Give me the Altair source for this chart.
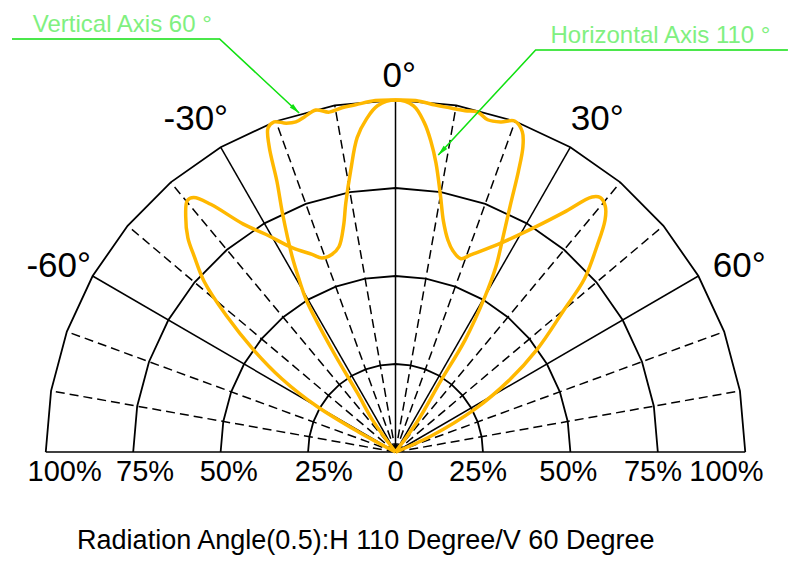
import altair as alt
import pandas as pd

# ---------------- data ----------------
ring_levels = [25, 50, 75, 100]
spoke_angles = list(range(-90, 91, 10))
ring_angles = list(range(-90, 91, 10))

# Vertical axis 60 deg curve (angle deg, relative intensity %)
vert_angle = [-38, -36, -33, -32, -30.6, -29.4, -28, -25.5, -23.8, -22.6, -21.6, -20.3,
              -18.5, -16.9, -15.3, -13.2, -11.1, -8.9, -6.6, -3.3, 0, 3.3, 6.6, 9.2,
              11.6, 13.7, 15.6, 17.8, 19.9, 21.7, 22.8, 23.8, 25.0, 26.8, 28.6, 30.1,
              32, 32.6, 35.7, 37]
vert_r = [0, 11, 20, 34, 50, 56, 63, 75, 84, 94, 99, 100,
          98.5, 98, 98.7, 99.8, 98.4, 99, 99.3, 100, 100, 100, 99.2, 99,
          99, 99.4, 98, 98.5, 100, 98, 94, 87, 78, 68, 60, 51,
          37.5, 24, 11, 0]

# Horizontal axis 110 deg curve
horiz_angle = [-64, -61.6, -60, -57.4, -54.4, -51.3, -48.5, -46, -44.3, -41.8, -39.8, -38.6,
               -36.9, -33.9, -30.9, -26.9, -23, -20.9, -18, -15.5, -13, -11.4, -9.1, -7,
               -5, -3, 0, 3, 5, 6.5, 8, 10, 11.8, 14, 16, 18.8, 21, 26.5, 32.3, 35.3,
               37.8, 39, 40.7, 42.3, 44.6, 47.7, 50, 54.2, 58, 61.7, 66, 68]
horiz_r = [0, 12, 26, 38.5, 50, 62, 73, 80, 85, 90, 93, 92.5,
           88, 78, 72, 65, 61, 59, 59, 60.5, 66, 72, 81, 90,
           95, 98.5, 100, 98.5, 94, 89, 83, 74, 67, 62, 59.5, 58, 60, 66, 76, 83.5,
           91.7, 93, 92, 89, 82, 73, 63, 50, 38, 26, 11, 0]

pct_text = ["100%", "75%", "50%", "25%", "0", "25%", "50%", "75%", "100%"]
pct_x = [-94.6, -71.6, -47.7, -20.5, 0, 23.6, 49.4, 73.6, 94.6]

angle_text = ["0°", "-30°", "30°", "-60°", "60°"]
angle_x = [1.1, -57.1, 57.7, -96.3, 98.3]
angle_y = [106.8, 94.6, 94.6, 52.8, 52.8]

title_text = "Radiation Angle(0.5):H 110 Degree/V 60 Degree"

# annotation leader lines (data units)
v_note = "Vertical Axis 60 °"
h_note = "Horizontal Axis 110 °"
v_line_x = [-109.66, -50.28, -27.56]
v_line_y = [117.33, 117.33, 96.31]
h_line_x = [112.2, 40.06, 12.22]
h_line_y = [114.2, 114.2, 84.38]

# ---------------- scales ----------------
XD = [-110.51, 112.22]
YD = [-29.26, 126.14]
xs = alt.Scale(domain=XD, nice=False, zero=False)
ys = alt.Scale(domain=YD, nice=False, zero=False)

def X(f):
    return alt.X(f, type="quantitative", scale=xs, axis=None)

def Y(f):
    return alt.Y(f, type="quantitative", scale=ys, axis=None)

polar = dict(x="datum.r*sin(datum.a*PI/180)", y="datum.r*cos(datum.a*PI/180)")

FONT = "Liberation Sans, Arial, sans-serif"
ORANGE = "#FFB800"
GREEN = "#11E011"
GTEXT = "#80F080"

# rings
ring_df = pd.DataFrame([{"lvl": l, "a": a, "r": l} for l in ring_levels for a in ring_angles])
rings = alt.Chart(ring_df).transform_calculate(**polar).mark_line(
    color="black", strokeWidth=1.8
).encode(x=X("x"), y=Y("y"), detail="lvl:N", order="a:Q")

# spokes
spoke_df = pd.DataFrame({"a": spoke_angles, "r": [100] * len(spoke_angles)})
spoke_df["solid"] = [a % 30 == 0 for a in spoke_angles]
spoke_base = alt.Chart(spoke_df).transform_calculate(
    x0="0", y0="0", **polar
)
solid = spoke_base.transform_filter("datum.solid").mark_rule(
    color="black", strokeWidth=1.5
).encode(x=X("x0"), y=Y("y0"), x2="x:Q", y2="y:Q")
dashed = spoke_base.transform_filter("!datum.solid").mark_rule(
    color="black", strokeWidth=1.5, strokeDash=[9, 5]
).encode(x=X("x0"), y=Y("y0"), x2="x:Q", y2="y:Q")

# curves
curve_df = pd.concat([
    pd.DataFrame({"a": vert_angle, "r": vert_r, "idx": range(len(vert_angle)), "s": "V"}),
    pd.DataFrame({"a": horiz_angle, "r": horiz_r, "idx": range(len(horiz_angle)), "s": "H"}),
])
curves = alt.Chart(curve_df).transform_calculate(**polar).mark_line(
    color=ORANGE, strokeWidth=3.5, interpolate="catmull-rom"
).encode(x=X("x"), y=Y("y"), detail="s:N", order="idx:Q")

# percent labels
pct_df = pd.DataFrame({"t": pct_text, "x": pct_x, "y": [-5.8] * len(pct_x)})
pct = alt.Chart(pct_df).mark_text(
    font=FONT, fontSize=29, color="black", align="center", baseline="middle"
).encode(x=X("x"), y=Y("y"), text="t:N")

# angle labels
ang_df = pd.DataFrame({"t": angle_text, "x": angle_x, "y": angle_y})
angs = alt.Chart(ang_df).mark_text(
    font=FONT, fontSize=35, color="black", align="center", baseline="middle"
).encode(x=X("x"), y=Y("y"), text="t:N")

# title at bottom
ttl_df = pd.DataFrame({"t": [title_text], "x": [-8.5], "y": [YD[0]]})
ttl = alt.Chart(ttl_df).mark_text(
    font=FONT, fontSize=27, color="black", align="center", baseline="bottom"
).encode(x=X("x"), y=Y("y"), text="t:N")

# annotations
note_df = pd.DataFrame({"t": [v_note, h_note], "x": [-103.7, 44.32], "y": [119.3, 116.19]})
notes = alt.Chart(note_df).mark_text(
    font=FONT, fontSize=24, color=GTEXT, align="left", baseline="alphabetic"
).encode(x=X("x"), y=Y("y"), text="t:N")

lead_df = pd.concat([
    pd.DataFrame({"x": v_line_x, "y": v_line_y, "i": range(3), "g": "V"}),
    pd.DataFrame({"x": h_line_x, "y": h_line_y, "i": range(3), "g": "H"}),
])
leads = alt.Chart(lead_df).mark_line(color=GREEN, strokeWidth=1.6).encode(
    x=X("x"), y=Y("y"), detail="g:N", order="i:Q"
)

arrow_shape = "M0,-1L0.45,1L-0.45,1Z"
arr_v = alt.Chart(pd.DataFrame({"x": [-28.6], "y": [97.3]})).mark_point(
    shape=arrow_shape, filled=True, color=GREEN, size=120, angle=133, opacity=1
).encode(x=X("x"), y=Y("y"))
arr_h = alt.Chart(pd.DataFrame({"x": [13.2], "y": [85.4]})).mark_point(
    shape=arrow_shape, filled=True, color=GREEN, size=120, angle=223, opacity=1
).encode(x=X("x"), y=Y("y"))

chart = alt.layer(
    rings, dashed, solid, curves, pct, angs, ttl, leads, arr_v, arr_h, notes
).properties(
    width=784, height=547,
    autosize=alt.AutoSizeParams(type="fit", contains="padding"),
    padding=0, background="white"
).configure_view(stroke=None)

chart.save("out.html", embed_options={"renderer": "svg", "actions": False})
